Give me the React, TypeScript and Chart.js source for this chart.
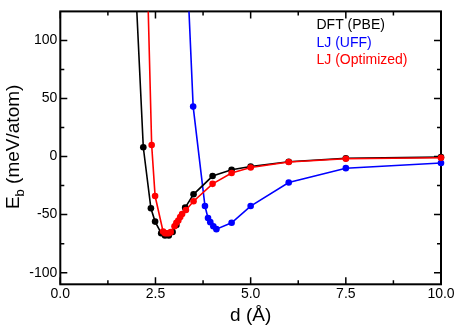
import React, { useEffect, useRef } from "react";
import { Chart, registerables } from "chart.js";

Chart.register(...registerables);

// ---- data ----
const dftD = [2.0, 2.18, 2.38, 2.49, 2.65, 2.75, 2.85, 2.95, 3.05, 3.28, 3.5, 4.0, 4.5, 5.0, 6.0, 7.5, 10.0];
const dftE = [132, 8, -44.5, -56, -66, -68, -68, -65, -59, -44, -32.5, -16.8, -11.3, -8.5, -4.5, -1.5, -0.5];

const uffD = [3.3, 3.49, 3.8, 3.88, 3.94, 4.02, 4.1, 4.5, 5.0, 6.0, 7.5, 10.0];
const uffE = [185, 43, -42.6, -53, -56.5, -60, -62.5, -57, -42.6, -22.4, -10, -5.5];

const optD = [2.3, 2.4, 2.49, 2.7, 2.75, 2.8, 2.85, 2.9, 3.0, 3.05, 3.1, 3.15, 3.2, 3.3, 3.5, 4.0, 4.5, 5.0, 6.0, 7.5, 10.0];
const optE = [138, 10, -34, -64.5, -66, -66, -66, -65, -60, -57, -55, -52, -49.5, -46, -38.5, -23.5, -14.2, -9.4, -4.7, -1.9, -1];

const seriesNames = ["DFT (PBE)", "LJ (UFF)", "LJ (Optimized)"];
const seriesColors = ["#000000", "#0000ff", "#ff0000"];

const xMajorTicks = [0, 2.5, 5, 7.5, 10];
const xMinorTicks = [1.25, 3.75, 6.25, 8.75];
const yMajorTicks = [-100, -50, 0, 50, 100];
const yMinorTicks = [-75, -25, 25, 75];

const xTitle = "d (Å)";
const yTitleMain = "E";
const yTitleSub = "b";
const yTitleRest = " (meV/atom)";

const FONT = "'Liberation Sans', Arial, Helvetica, sans-serif";

const toPts = (xs: number[], ys: number[]) => xs.map((x, i) => ({ x, y: ys[i] }));

const framePlugin = {
  id: "frame",
  beforeDatasetsDraw(chart: any) {
    const { ctx, chartArea: a, scales } = chart;
    const xs = scales.x;
    const ys = scales.y;
    ctx.save();
    ctx.strokeStyle = "#000";
    ctx.lineWidth = 2;
    ctx.strokeRect(a.left, a.top, a.right - a.left, a.bottom - a.top);
    ctx.lineWidth = 1.5;
    const tick = (vals: number[], len: number) => {
      vals.forEach((v) => {
        const px = xs.getPixelForValue(v);
        ctx.beginPath();
        ctx.moveTo(px, a.bottom);
        ctx.lineTo(px, a.bottom - len);
        ctx.moveTo(px, a.top);
        ctx.lineTo(px, a.top + len);
        ctx.stroke();
      });
    };
    const ytick = (vals: number[], len: number) => {
      vals.forEach((v) => {
        const py = ys.getPixelForValue(v);
        ctx.beginPath();
        ctx.moveTo(a.left, py);
        ctx.lineTo(a.left + len, py);
        ctx.moveTo(a.right, py);
        ctx.lineTo(a.right - len, py);
        ctx.stroke();
      });
    };
    tick(xMajorTicks, 7);
    tick(xMinorTicks, 4);
    ytick(yMajorTicks, 7);
    ytick(yMinorTicks, 4);
    ctx.restore();
  },
  afterDraw(chart: any) {
    const { ctx, chartArea: a } = chart;
    ctx.save();
    // legend
    ctx.font = `14px ${FONT}`;
    ctx.textAlign = "left";
    ctx.textBaseline = "alphabetic";
    const baselines = [29.3, 46.8, 64.3];
    seriesNames.forEach((n, i) => {
      ctx.fillStyle = seriesColors[i];
      ctx.fillText(n, 316.5, baselines[i]);
    });
    // x title
    ctx.fillStyle = "#000";
    ctx.font = `19px ${FONT}`;
    ctx.textAlign = "center";
    ctx.fillText(xTitle, (a.left + a.right) / 2, 321);
    // y title (rotated)
    ctx.translate(19, (a.top + a.bottom) / 2 - 1);
    ctx.rotate(-Math.PI / 2);
    ctx.textAlign = "left";
    const wE = ctx.measureText(yTitleMain).width;
    ctx.font = `13px ${FONT}`;
    const wb = ctx.measureText(yTitleSub).width;
    ctx.font = `19px ${FONT}`;
    const wR = ctx.measureText(yTitleRest).width;
    const total = wE + wb + wR;
    const x0 = -total / 2;
    ctx.fillText(yTitleMain, x0, 0);
    ctx.font = `13px ${FONT}`;
    ctx.fillText(yTitleSub, x0 + wE, 5);
    ctx.font = `19px ${FONT}`;
    ctx.fillText(yTitleRest, x0 + wE + wb, 0);
    ctx.restore();
  },
};

export default function App() {
  const ref = useRef<HTMLCanvasElement | null>(null);
  useEffect(() => {
    if (!ref.current) return;
    const mk = (i: number, xs: number[], ys: number[]) => ({
      label: seriesNames[i],
      data: toPts(xs, ys),
      borderColor: seriesColors[i],
      backgroundColor: seriesColors[i],
      pointBackgroundColor: seriesColors[i],
      pointBorderColor: seriesColors[i],
      borderWidth: 1.6,
      pointRadius: 3.3,
      pointBorderWidth: 0,
      tension: 0,
      clip: { left: 6, right: 6, top: 0, bottom: 6 },
    });
    // dataset 0 is drawn on top: red, then black, then blue
    const chart = new Chart(ref.current, {
      type: "line",
      data: {
        datasets: [mk(2, optD, optE), mk(0, dftD, dftE), mk(1, uffD, uffE)],
      },
      options: {
        animation: false,
        responsive: false,
        layout: { padding: { top: 1.5, right: 15, left: 0, bottom: 0 } },
        plugins: { legend: { display: false }, tooltip: { enabled: false } },
        scales: {
          x: {
            type: "linear",
            min: 0,
            max: 10,
            afterBuildTicks: (s: any) => {
              s.ticks = xMajorTicks.map((v) => ({ value: v }));
            },
            afterFit: (s: any) => {
              s.height = 42.7;
            },
            grid: { display: false, drawTicks: false },
            border: { display: false },
            ticks: {
              padding: 1,
              color: "#000",
              font: { family: FONT, size: 14 },
              maxRotation: 0,
              callback: (v: any) => Number(v).toFixed(1),
            },
          },
          y: {
            type: "linear",
            min: -110,
            max: 125,
            afterBuildTicks: (s: any) => {
              s.ticks = yMajorTicks.map((v) => ({ value: v }));
            },
            afterFit: (s: any) => {
              s.width = 60.3;
            },
            grid: { display: false, drawTicks: false },
            border: { display: false },
            ticks: {
              padding: 3,
              color: "#000",
              font: { family: FONT, size: 14 },
              callback: (v: any) => String(v),
            },
          },
        },
      },
      plugins: [framePlugin],
    } as any);
    return () => chart.destroy();
  }, []);
  return (
    <div style={{ position: "absolute", left: 0, top: 0, width: 456, height: 327, background: "#fff" }}>
      <canvas ref={ref} width={456} height={327} style={{ display: "block" }} />
    </div>
  );
}
